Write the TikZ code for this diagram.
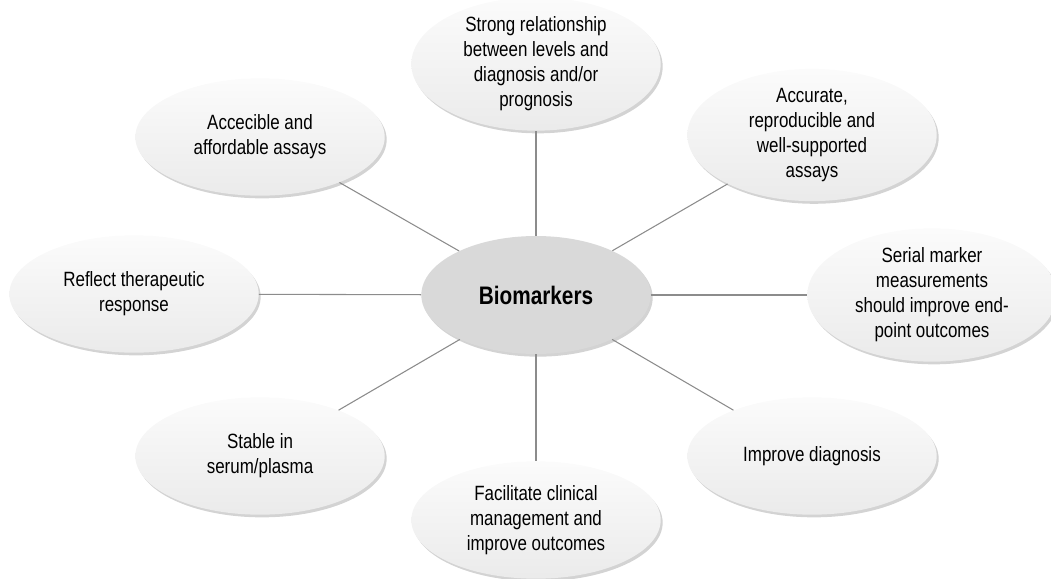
\documentclass[tikz,border=0pt]{standalone}
\usepackage{fontspec}
\setmainfont[FakeStretch=0.82]{Liberation Sans}
\usetikzlibrary{shapes.geometric,shadows}

\definecolor{spoke}{HTML}{8C8C8C}
\definecolor{hubfill}{HTML}{D9D9D9}

\tikzset{
  leaf/.style={ellipse, minimum width=187pt, minimum height=88pt, inner sep=0pt,
    align=center, top color=gray!3, bottom color=gray!16,
    font=\fontsize{15.5}{18.75}\selectfont,
    drop shadow={shadow xshift=1.5pt, shadow yshift=-2pt, opacity=0.35, fill=gray}},
  hub/.style={ellipse, minimum width=172pt, minimum height=88.5pt, inner sep=0pt,
    fill=hubfill, font=\fontsize{19}{22}\selectfont\bfseries,
    drop shadow={shadow xshift=1.5pt, shadow yshift=-2pt, opacity=0.35, fill=gray}},
  spokeline/.style={draw=spoke, line width=0.8pt}
}

\begin{document}
\begin{tikzpicture}[x=0.75pt, y=-0.75pt]

    % Page frame
    \useasboundingbox (0,0) rectangle (1051,579);

    % Central node
    \node[hub] (bio) at (536,295) {Biomarkers};

    % Surrounding properties, clockwise from the top
    \node[leaf] (rel) at (536,64) {Strong relationship\\between levels and\\diagnosis and/or\\prognosis};
    \node[leaf] (acc) at (812,135) {Accurate,\\reproducible and\\well-supported\\assays};
    \node[leaf] (ser) at (932,295) {Serial marker\\measurements\\should improve end-\\point outcomes};
    \node[leaf] (dia) at (812,456) {Improve diagnosis};
    \node[leaf] (fac) at (536,520) {Facilitate clinical\\management and\\improve outcomes};
    \node[leaf] (sta) at (260,456) {Stable in\\serum/plasma};
    \node[leaf] (ref) at (134,294) {Reflect therapeutic\\response};
    \node[leaf] (aff) at (260,137) {Accecible and\\affordable assays};

    % Spokes from the hub
    \begin{scope}[on background layer/.try]
    \foreach \n in {rel,acc,ser,dia,fac,sta,ref,aff}
        \draw[spokeline] (bio) -- (\n);
    \end{scope}

\end{tikzpicture}
\end{document}
